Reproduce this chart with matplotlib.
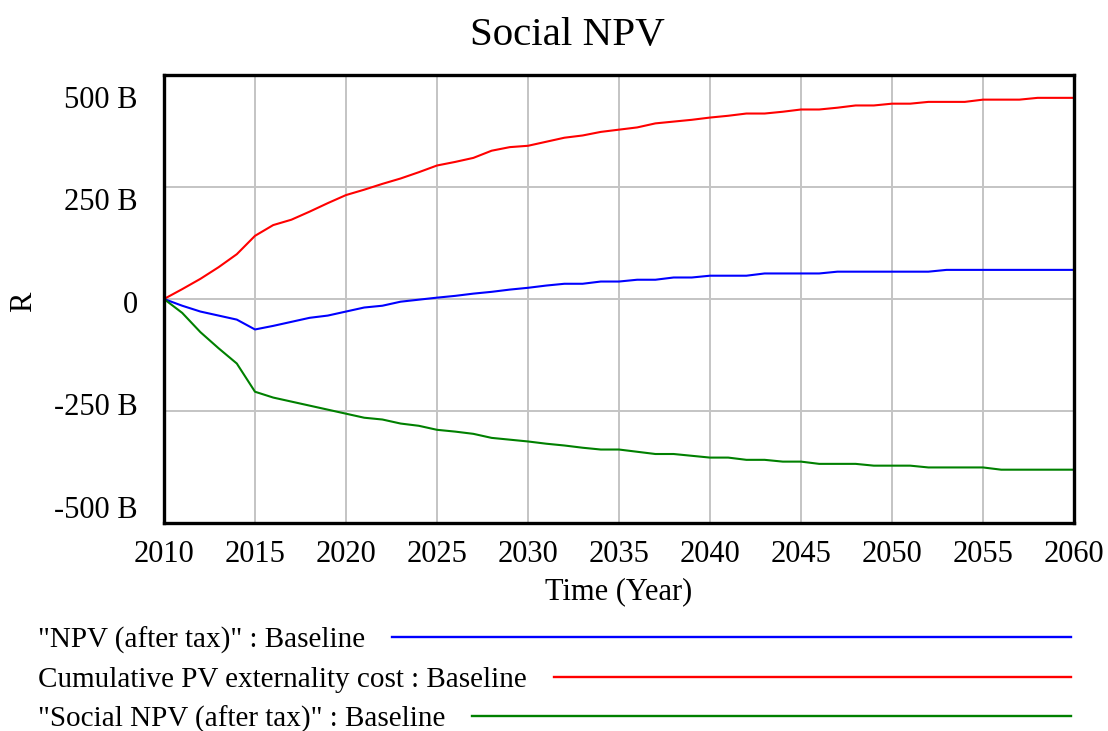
import matplotlib
matplotlib.use("Agg")
import matplotlib.pyplot as plt
from matplotlib.lines import Line2D
import numpy as np

years = list(range(2010, 2061))

npv_after_tax = [0, -15, -28, -37, -46, -68, -60, -51, -42, -37,
                 -28, -19, -15, -6, -1.5, 3, 7, 12, 16, 21,
                 25, 30, 34, 34, 39, 39, 43, 43, 48, 48,
                 52, 52, 52, 57, 57, 57, 57, 61, 61, 61,
                 61, 61, 61, 65, 65, 65, 65, 65, 65, 65, 65]

cum_pv_externality = [0, 22, 45, 71, 100, 141, 165, 177, 195, 214,
                      232, 244, 257, 269, 283, 298, 306, 315, 331, 339,
                      342, 351, 360, 365, 373, 378, 383, 392, 396, 400,
                      405, 409, 414, 414, 418, 423, 423, 427, 432, 432,
                      436, 436, 440, 440, 440, 445, 445, 445, 449, 449, 449]

social_npv = [0, -31, -74, -110, -144, -207, -220, -229, -238, -247,
              -256, -265, -269, -278, -283, -292, -296, -301, -310, -314,
              -318, -323, -327, -332, -336, -336, -341, -346, -346, -350,
              -354, -354, -359, -359, -363, -363, -368, -368, -368, -372,
              -372, -372, -376, -376, -376, -376, -381, -381, -381, -381, -381]

series_labels = ['"NPV (after tax)" : Baseline',
                 'Cumulative PV externality cost : Baseline',
                 '"Social NPV (after tax)" : Baseline']
series_colors = ["#0000ff", "#ff0000", "#008000"]

ytick_values = [500, 250, 0, -250, -500]
ytick_labels = ["500 B", "250 B", "0", "-250 B", "-500 B"]
xtick_values = list(range(2010, 2061, 5))

W, H = 1108, 731
fig = plt.figure(figsize=(W / 100, H / 100), dpi=100)
plt.rcParams["font.family"] = ["Liberation Serif", "DejaVu Serif"]

L, R_, T, B = 164, 1074, 75, 523
ax = fig.add_axes([L / W, 1 - B / H, (R_ - L) / W, (B - T) / H])

data = [npv_after_tax, cum_pv_externality, social_npv]
for vals, c in zip(data, series_colors):
    ax.plot(years, vals, color=c, lw=1.5, zorder=3, solid_joinstyle="round")

ax.set_xlim(2010, 2060)
ax.set_ylim(-500, 500)
ax.set_xticks(xtick_values)
ax.set_xticklabels([str(v) for v in xtick_values], fontsize=22)
ax.set_yticks(ytick_values)
ax.set_yticklabels([])
ax.tick_params(axis="both", length=0)
ax.tick_params(axis="x", pad=12)
ax.grid(True, color="#c4c4c4", lw=1.4, zorder=1)
for s in ax.spines.values():
    s.set_linewidth(2.4)
    s.set_color("black")
    s.set_zorder(4)

# Vensim-style y labels drawn slightly inward of their gridlines
for v, lab in zip(ytick_values, ytick_labels):
    yfrac = 0.4865 + v / 1000 * 0.915
    ax.text(-26 / (R_ - L), yfrac, lab, transform=ax.transAxes,
            ha="right", va="center", fontsize=22)

fig.text(24 / W, 1 - 302 / H, "R", rotation=90, ha="center", va="center", fontsize=22)
fig.text(((L + R_) / 2) / W, 1 - 592 / H, "Time (Year)", ha="center", va="center", fontsize=22)
fig.text(567 / W, 1 - 35 / H, "Social NPV", ha="center", va="center", fontsize=29.5)

# Legend rows
row_y = [637, 677, 716]
fig.canvas.draw()
renderer = fig.canvas.get_renderer()
for lab, c, yy in zip(series_labels, series_colors, row_y):
    t = fig.text(38 / W, 1 - (yy + 3) / H, lab, ha="left", va="center", fontsize=21)
    bb = t.get_window_extent(renderer=renderer)
    x0 = (bb.x1 + 27) / W
    fig.add_artist(Line2D([x0, 1071 / W], [1 - yy / H, 1 - yy / H],
                          transform=fig.transFigure, color=c, lw=1.7))

fig.savefig("out.png", dpi=100)
